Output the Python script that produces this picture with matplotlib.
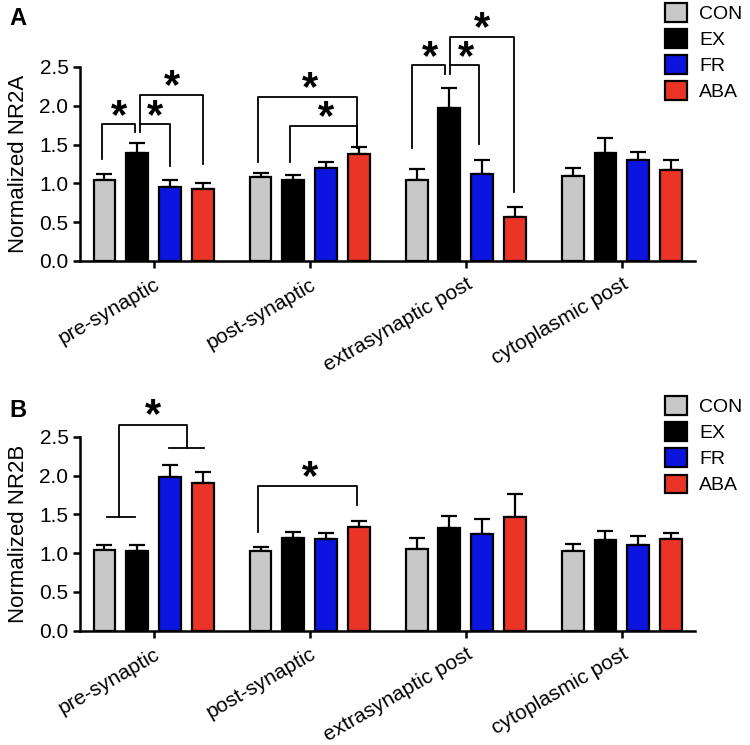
import matplotlib.pyplot as plt
import numpy as np

plt.rcParams['font.family'] = ['Liberation Sans', 'DejaVu Sans']

groups = ["CON", "EX", "FR", "ABA"]
colors = ["#c8c8c8", "#000000", "#0c14e0", "#ea3526"]
regions = ["pre-synaptic", "post-synaptic", "extrasynaptic post", "cytoplasmic post"]

# NR2A: rows = region, cols = CON, EX, FR, ABA
nr2a_mean = [[1.04, 1.39, 0.95, 0.93],
             [1.08, 1.04, 1.20, 1.38],
             [1.04, 1.97, 1.12, 0.57],
             [1.09, 1.39, 1.30, 1.17]]
nr2a_err = [[0.08, 0.13, 0.09, 0.08],
            [0.05, 0.07, 0.08, 0.09],
            [0.15, 0.26, 0.18, 0.12],
            [0.11, 0.19, 0.10, 0.13]]

nr2b_mean = [[1.04, 1.03, 1.98, 1.90],
             [1.03, 1.20, 1.18, 1.34],
             [1.05, 1.32, 1.25, 1.46],
             [1.03, 1.17, 1.11, 1.18]]
nr2b_err = [[0.07, 0.08, 0.15, 0.15],
            [0.05, 0.07, 0.08, 0.07],
            [0.15, 0.16, 0.19, 0.30],
            [0.09, 0.11, 0.11, 0.08]]

step = 0.21
width = 0.14
offs = (np.arange(4) - 1.5) * step


def bar_panel(fig, ax, means, errs, ylabel, leg_y):
    means = np.array(means)
    errs = np.array(errs)
    x = np.arange(len(regions))
    for j in range(4):
        ax.bar(x + offs[j], means[:, j], width, color=colors[j], edgecolor="k",
               linewidth=1.6, label=groups[j], zorder=2)
        ax.errorbar(x + offs[j], means[:, j], yerr=[np.zeros(4), errs[:, j]],
                    fmt="none", ecolor="k", elinewidth=1.6, capsize=5.5,
                    capthick=1.6, zorder=1)
    ax.set_xlim(-0.47, 3.47)
    ax.set_ylim(0, 2.5)
    ax.set_yticks(np.arange(0, 2.51, 0.5))
    ax.set_yticklabels(["%.1f" % v for v in np.arange(0, 2.51, 0.5)])
    ax.set_xticks(x)
    ax.set_xticklabels(regions, rotation=30, ha="right", rotation_mode="anchor",
                       fontsize=15)
    ax.set_ylabel(ylabel, fontsize=16, labelpad=7)
    for s in ["top", "right"]:
        ax.spines[s].set_visible(False)
    for s in ["left", "bottom"]:
        ax.spines[s].set_linewidth(1.8)
    ax.tick_params(axis="both", width=1.8, length=5)
    ax.tick_params(axis="y", labelsize=15)
    ax.tick_params(axis="x", pad=5)
    ax.legend(loc="upper left", bbox_to_anchor=(665 / 750, 1 - leg_y / 745),
              bbox_transform=fig.transFigure, frameon=False,
              fontsize=14, handlelength=1.15, handleheight=1.1,
              handletextpad=0.6, labelspacing=0.32, borderaxespad=0,
              borderpad=0)


def bracket(ax, x1, x2, top, y1, y2):
    ax.plot([x1, x1, x2, x2], [y1, top, top, y2], color="k", lw=1.3,
            clip_on=False, zorder=3)


def star(ax, x, y):
    ax.text(x, y, "*", ha="center", va="center", fontsize=30,
            fontweight="bold", clip_on=False)


fig = plt.figure(figsize=(7.5, 7.45), dpi=100)
axA = fig.add_axes([0.107, 0.6497, 0.82, 0.2604])
axB = fig.add_axes([0.107, 0.1534, 0.82, 0.2604])

bar_panel(fig, axA, nr2a_mean, nr2a_err, "Normalized NR2A", 3)
bar_panel(fig, axB, nr2b_mean, nr2b_err, "Normalized NR2B", 396)

# panel A brackets
bracket(axA, offs[0] - 0.015, offs[1] - 0.015, 1.76, 1.31, 1.66)
bracket(axA, offs[1] + 0.02, offs[2], 1.76, 1.66, 1.22)
bracket(axA, offs[1] + 0.02, offs[3], 2.135, 1.76, 1.245)
star(axA, (offs[0] + offs[1]) / 2 - 0.01, 1.86)
star(axA, (offs[1] + offs[2]) / 2 + 0.01, 1.86)
star(axA, (offs[1] + offs[3]) / 2 + 0.01, 2.24)

bracket(axA, 1 + offs[0] - 0.015, 1 + offs[3] - 0.01, 2.11, 1.276, 1.45)
bracket(axA, 1 + offs[1] - 0.02, 1 + offs[3] - 0.01, 1.74, 1.276, 1.45)
star(axA, 1 + (offs[0] + offs[3]) / 2, 2.21)
star(axA, 1 + (offs[1] + offs[3]) / 2, 1.84)

bracket(axA, 2 + offs[0] - 0.03, 2 + offs[1] - 0.03, 2.52, 1.45, 2.41)
bracket(axA, 2 + offs[1] + 0.005, 2 + offs[2] - 0.02, 2.52, 2.41, 1.51)
bracket(axA, 2 + offs[1] + 0.005, 2 + offs[3] - 0.005, 2.89, 2.52, 0.89)
star(axA, 2 + (offs[0] + offs[1]) / 2 - 0.02, 2.62)
star(axA, 2 + (offs[1] + offs[2]) / 2, 2.62)
star(axA, 2 + (offs[1] + offs[3]) / 2, 2.99)

# panel B brackets
axB.plot([-0.30, -0.12], [1.47, 1.47], color="k", lw=1.3, clip_on=False)
axB.plot([0.10, 0.32], [2.36, 2.36], color="k", lw=1.3, clip_on=False)
bracket(axB, -0.22, 0.215, 2.65, 1.47, 2.36)
star(axB, -0.005, 2.76)

bracket(axB, 1 + offs[0] - 0.015, 1 + offs[3] - 0.01, 1.87, 1.276, 1.62)
star(axB, 1 + (offs[0] + offs[3]) / 2, 1.97)

fig.text(0.013, 0.975, "A", fontsize=17, fontweight="bold", va="center")
fig.text(0.013, 0.449, "B", fontsize=17, fontweight="bold", va="center")

fig.savefig("out.png", dpi=100)
